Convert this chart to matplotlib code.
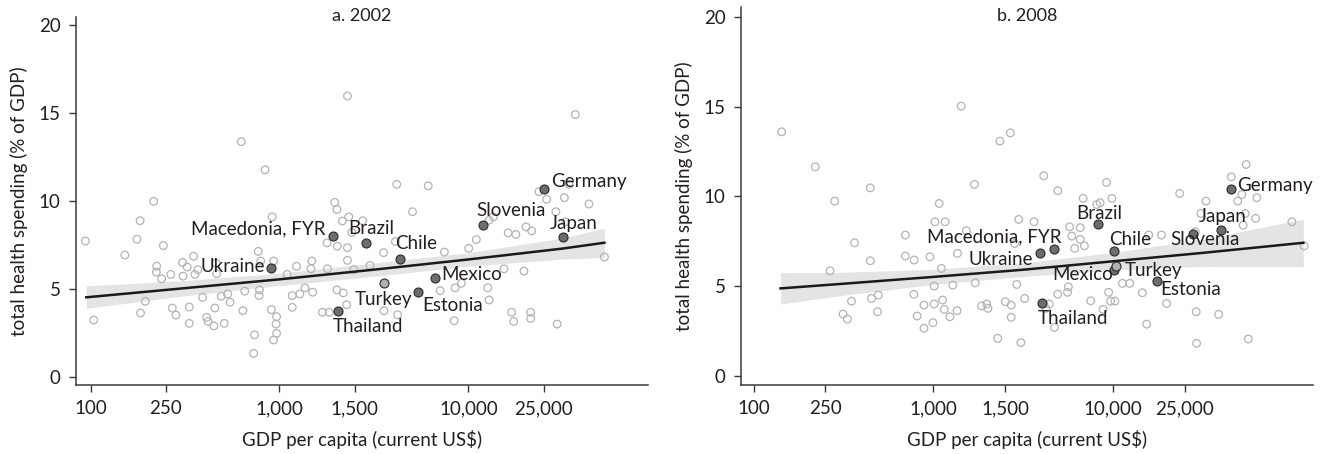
import matplotlib
matplotlib.use("Agg")
import matplotlib.pyplot as plt
import numpy as np

plt.rcParams['font.family'] = ['Lato', 'DejaVu Sans']

# ---- 2002 panel ----
gdp_2002 = [94, 104, 152, 176, 183, 184, 195, 216, 224, 223, 238, 243, 266, 271, 283,
            307, 309, 325, 333, 333, 351, 357, 370, 392, 412, 419, 450, 455, 462, 465,
            492, 510, 532, 548, 628, 641, 655, 738, 730, 773, 780, 784, 796, 839, 916,
            931, 906, 931, 966, 960, 966, 1099, 1169, 1169, 1231, 1282, 1365, 1483, 1468,
            1499, 1688, 1786, 1796, 1834, 1962, 2014, 2014, 2024, 2153, 2177, 2268, 2291,
            2291, 2291, 2328, 2415, 2477, 2762, 3015, 3556, 3573, 4109, 4176, 4223, 5062,
            6131, 7093, 7464, 8414, 8506, 9187, 10040, 11020, 12670, 12870, 13560, 12870,
            15420, 16250, 16940, 17380, 17830, 19680, 20200, 21380, 21380, 21630, 23620,
            25940, 29050, 29520, 32220, 32730, 34120, 36830, 43470, 52500]
hs_2002 = [7.73, 3.24, 6.93, 7.83, 8.88, 3.64, 4.30, 9.98, 6.30, 5.96, 5.58, 7.47, 5.83, 3.92, 3.52,
           6.51, 5.73, 6.25, 3.98, 3.05, 6.86, 5.83, 6.10, 4.53, 3.39, 3.16, 2.91, 3.92, 6.46, 5.87,
           4.59, 3.05, 4.72, 4.25, 13.37, 3.77, 4.88, 2.40, 1.35, 7.14, 4.63, 4.95, 6.59, 11.77, 9.10,
           6.59, 3.83, 2.11, 3.43, 3.01, 2.48, 5.83, 4.63, 3.96, 6.29, 4.72, 5.07, 6.59, 6.15,
           4.82, 3.68, 7.62, 6.15, 3.68, 9.92, 9.52, 4.95, 7.43, 8.86, 4.78, 4.11, 15.96,
           7.35, 6.63, 9.10, 8.21, 6.10, 8.88, 6.34, 7.07, 3.77, 7.70, 10.95, 3.54, 9.39,
           10.86, 4.91, 7.10, 3.20, 5.07, 5.33, 7.31, 7.81, 5.07, 4.38, 9.10, 8.91,
           6.15, 8.19, 3.68, 3.16, 8.10, 6.02, 8.53, 3.68, 3.33, 8.30, 10.53,
           10.10, 9.39, 3.01, 10.19, 8.82, 10.95, 14.91, 9.83, 6.82]

names_2002 = ["Ukraine", "Macedonia, FYR", "Brazil", "Chile", "Turkey", "Thailand",
              "Estonia", "Mexico", "Slovenia", "Germany", "Japan"]
hl_gdp_2002 = [902, 1920, 2866, 4360, 3560, 2047, 5420, 6670, 11900, 25200, 31800]
hl_hs_2002 = [6.21, 8.02, 7.64, 6.72, 5.33, 3.73, 4.82, 5.62, 8.61, 10.67, 7.96]

fit_x_2002 = [95, 316, 1000, 3162, 10000, 31623, 52500]
fit_y_2002 = [4.53, 5.05, 5.55, 6.10, 6.68, 7.30, 7.63]
fit_lo_2002 = [3.90, 4.62, 5.20, 5.72, 6.30, 6.70, 6.80]
fit_hi_2002 = [5.18, 5.48, 5.90, 6.48, 7.06, 7.90, 8.46]

# ---- 2008 panel ----
gdp_2008 = [143, 220, 266, 282, 314, 332, 350, 364, 445, 445, 452, 488, 493, 697, 697,
            781, 778, 811, 885, 885, 955, 993, 1009, 1009, 1019, 1076, 1106, 1124, 1148,
            1161, 1233, 1280, 1352, 1359, 1426, 1523, 1688, 1706, 1851, 1976, 2010, 2275,
            2339, 2508, 2675, 2705, 2705, 2825, 2904, 2980, 3063, 3215, 3622, 4103, 4217,
            4406, 4701, 4910, 4910, 5561, 5624, 5715, 5875, 6098, 6546, 6546, 6796, 6906,
            7493, 8088, 8450, 8776, 9165, 9420, 9661, 9820, 10200, 11250, 12340, 14510,
            15340, 15750, 18540, 19790, 23390, 28580, 28900, 29060, 30690, 32760, 38540,
            39570, 45300, 49180, 51900, 52740, 54180, 54800, 56340, 62810, 61800, 98400,
            115100]
hs_2008 = [13.60, 11.65, 5.86, 9.74, 3.45, 3.17, 4.17, 7.42, 10.48, 6.42, 4.32, 3.58, 4.51, 7.85, 6.68,
           6.46, 4.55, 3.34, 3.95, 2.66, 6.64, 2.97, 5.01, 4.01, 8.59, 9.61, 5.99, 4.23, 3.71,
           8.59, 3.30, 5.06, 3.64, 6.83, 15.03, 8.09, 10.67, 5.19, 3.90, 4.01, 3.77, 2.10,
           13.08, 4.14, 13.54, 3.95, 3.27, 7.38, 5.10, 8.72, 1.86, 4.32, 8.59, 11.15, 3.77,
           4.01, 2.71, 4.56, 10.32, 4.66, 4.97, 8.31, 7.79, 7.11, 8.26, 7.61, 9.89, 7.25,
           4.19, 9.55, 9.65, 3.71, 10.78, 4.66, 4.17, 9.89, 4.17, 5.16, 5.16, 4.64,
           2.89, 7.85, 7.85, 4.04, 10.17, 8.03, 3.58, 1.82, 9.05, 9.74, 3.43,
           8.87, 11.09, 9.74, 10.11, 8.40, 9.05, 11.78, 2.06, 9.93, 8.78, 8.59,
           7.25]

names_2008 = ["Ukraine", "Macedonia, FYR", "Thailand", "Brazil", "Chile", "Mexico",
              "Turkey", "Estonia", "Slovenia", "Japan", "Germany"]
hl_gdp_2008 = [3910, 4660, 3990, 8220, 10140, 10140, 10400, 17500, 27800, 39500, 45400]
hl_hs_2008 = [6.83, 7.07, 4.04, 8.46, 6.97, 5.92, 6.15, 5.30, 7.90, 8.12, 10.41]

fit_x_2008 = [141, 316, 1000, 3162, 10000, 31623, 114000]
fit_y_2008 = [4.88, 5.14, 5.52, 5.92, 6.39, 6.86, 7.42]
fit_lo_2008 = [4.01, 4.50, 5.10, 5.55, 5.90, 6.10, 6.09]
fit_hi_2008 = [5.75, 5.78, 5.94, 6.30, 6.88, 7.62, 8.74]

tick_vals = [100, 250, 1000, 2500, 10000, 25000]
tick_labels = ["100", "250", "1,000", "1,500", "10,000", "25,000"]

# label placement (offset in pixels, horizontal alignment)
lab_2002 = {"Ukraine": (-6, 1, "right"), "Macedonia, FYR": (-7, 7, "right"),
            "Brazil": (5, 14, "center"), "Chile": (-5, 15, "left"),
            "Turkey": (0, -16, "center"), "Thailand": (-5, -15, "left"),
            "Estonia": (4, -13, "left"), "Mexico": (6, 4, "left"),
            "Slovenia": (-6, 15, "left"), "Germany": (7, 8, "left"),
            "Japan": (-13, 13, "left")}
lab_2008 = {"Germany": (6, 4, "left"), "Japan": (-22, 14, "left"),
            "Slovenia": (-23, -5, "left"), "Chile": (-5, 11, "left"),
            "Brazil": (1, 11, "center"), "Turkey": (8, -5, "left"),
            "Estonia": (3, -9, "left"), "Mexico": (-1, -5, "right"),
            "Thailand": (-4, -15, "left"), "Macedonia, FYR": (8, 12, "right"),
            "Ukraine": (-7, -6, "right")}

TXT = "#231f20"


def draw_panel(ax, gdp, hs, names, hl_gdp, hl_hs, fx, fy, flo, fhi, labs, title, xlim, ylim):
    ax.fill_between(fx, flo, fhi, color="#e4e4e4", lw=0, zorder=1)
    ax.scatter(gdp, hs, s=30, facecolors="none", edgecolors="#b3b3b3", linewidths=0.9, zorder=2)
    ax.plot(fx, fy, color="#1a1a1a", lw=1.8, zorder=3)
    for n, x, y in zip(names, hl_gdp, hl_hs):
        fc = "#b0b0b0" if n == "Turkey" else "#6d6d6d"
        ax.scatter([x], [y], s=42, facecolors=fc, edgecolors="#2a2a2a", linewidths=0.8, zorder=4)
        dx, dy, ha = labs[n]
        ax.annotate(n, (x, y), xytext=(dx, dy), textcoords="offset pixels",
                    ha=ha, va="center", fontsize=13.5, color=TXT, zorder=5)
    ax.set_xscale("log")
    ax.set_xlim(*xlim)
    ax.set_ylim(*ylim)
    ax.set_xticks(tick_vals)
    ax.set_xticklabels(tick_labels)
    ax.minorticks_off()
    ax.set_yticks([0, 5, 10, 15, 20])
    for s in ["top", "right"]:
        ax.spines[s].set_visible(False)
    for s in ["left", "bottom"]:
        ax.spines[s].set_color("#3a3a3a")
        ax.spines[s].set_linewidth(1.1)
    ax.tick_params(axis="both", labelsize=13.5, colors="#3a3a3a", labelcolor=TXT,
                   length=5, width=1, pad=6)
    ax.set_xlabel("GDP per capita (current US$)", fontsize=13.5, color=TXT, labelpad=9)
    ax.set_ylabel("total health spending (% of GDP)", fontsize=13.5, color=TXT, labelpad=8)


fig = plt.figure(figsize=(13.23, 4.54), dpi=100)
W, H = 1323, 454
ax1 = fig.add_axes([76 / W, (H - 385) / H, 572 / W, 368 / H])
ax2 = fig.add_axes([741 / W, (H - 385) / H, 572 / W, 378 / H])

draw_panel(ax1, gdp_2002, hs_2002, names_2002, hl_gdp_2002, hl_hs_2002,
           fit_x_2002, fit_y_2002, fit_lo_2002, fit_hi_2002, lab_2002, "a. 2002",
           (83.8, 89300), (-0.45, 20.45))
draw_panel(ax2, gdp_2008, hs_2008, names_2008, hl_gdp_2008, hl_hs_2008,
           fit_x_2008, fit_y_2008, fit_lo_2008, fit_hi_2008, lab_2008, "b. 2008",
           (85, 129000), (-0.5, 20.55))

fig.text(362 / W, 1 - 16 / H, "a. 2002", ha="center", va="center", fontsize=13, color=TXT)
fig.text(1027 / W, 1 - 16 / H, "b. 2008", ha="center", va="center", fontsize=13, color=TXT)

fig.savefig("out.png", dpi=100)
